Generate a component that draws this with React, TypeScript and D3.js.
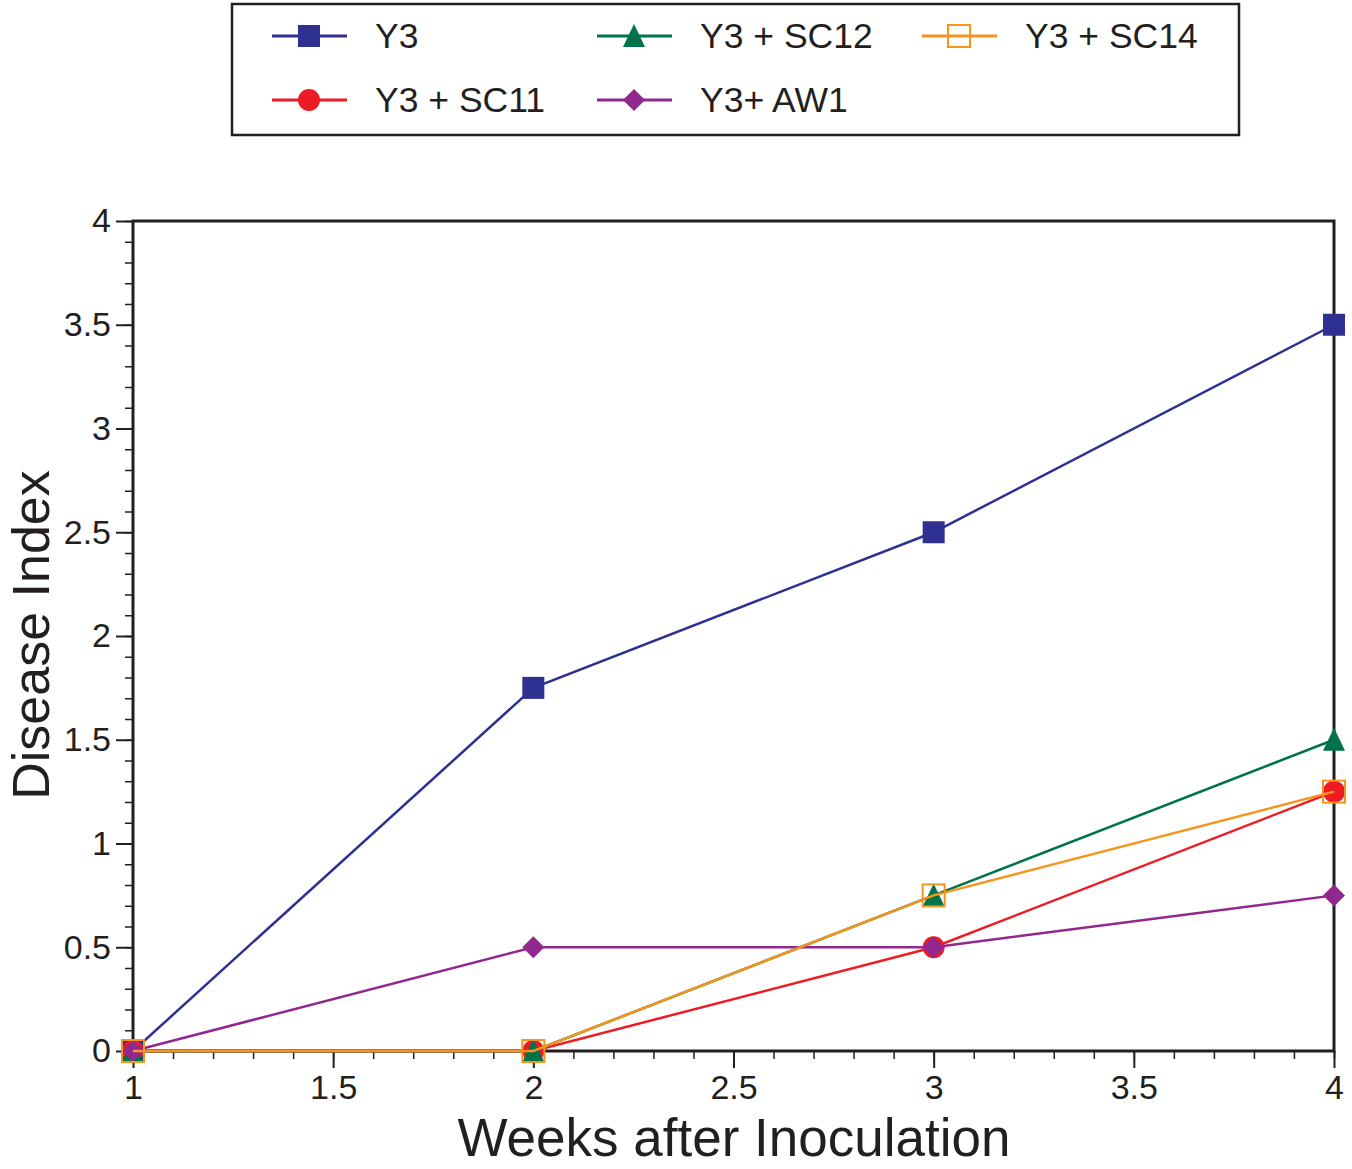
import React, { useEffect, useRef } from 'react';
import * as d3 from 'd3';

// weeks after inoculation
const weeks = [1, 2, 3, 4];

// disease index per series
const y3 = [0, 1.75, 2.5, 3.5];
const y3sc11 = [0, 0, 0.5, 1.25];
const y3sc12 = [0, 0, 0.75, 1.5];
const y3aw1 = [0, 0.5, 0.5, 0.75];
const y3sc14 = [0, 0, 0.75, 1.25];

const xTicks = [1, 1.5, 2, 2.5, 3, 3.5, 4];
const yTicks = [0, 0.5, 1, 1.5, 2, 2.5, 3, 3.5, 4];

const series = [
    { name: 'Y3', values: y3, color: '#2E3192', symbol: 'square', filled: true, legend: [0, 0] },
    { name: 'Y3 + SC11', values: y3sc11, color: '#ED1C24', symbol: 'circle', filled: true, legend: [0, 1] },
    { name: 'Y3 + SC12', values: y3sc12, color: '#00734A', symbol: 'triangle', filled: true, legend: [1, 0] },
    { name: 'Y3+ AW1', values: y3aw1, color: '#92278F', symbol: 'diamond', filled: true, legend: [1, 1] },
    { name: 'Y3 + SC14', values: y3sc14, color: '#F7941D', symbol: 'square', filled: false, legend: [2, 0] },
];

const FONT = '"Liberation Sans", Arial, Helvetica, sans-serif';
const INK = '#231F20';

const drawMarker = (g, symbol, color, filled, cx, cy) => {
    const s = 11;
    if (symbol === 'square') {
        g.append('rect')
            .attr('x', cx - s).attr('y', cy - s)
            .attr('width', 2 * s).attr('height', 2 * s)
            .attr('fill', filled ? color : 'none')
            .attr('stroke', filled ? 'none' : color)
            .attr('stroke-width', 2);
    } else if (symbol === 'circle') {
        g.append('circle').attr('cx', cx).attr('cy', cy).attr('r', s).attr('fill', color);
    } else if (symbol === 'triangle') {
        g.append('path')
            .attr('d', `M${cx},${cy - s - 1}L${cx + s},${cy + s}L${cx - s},${cy + s}Z`)
            .attr('fill', color);
    } else {
        g.append('path')
            .attr('d', `M${cx},${cy - s}L${cx + s},${cy}L${cx},${cy + s}L${cx - s},${cy}Z`)
            .attr('fill', color);
    }
};

const App = () => {
    const ref = useRef(null);
    const width = 1352;
    const height = 1169;

    useEffect(() => {
        const svg = d3.select(ref.current);
        svg.selectAll('*').remove();

        const x = d3.scaleLinear().domain([1, 4]).range([133, 1334]);
        const y = d3.scaleLinear().domain([0, 4]).range([1051, 221]);

        // minor ticks
        svg.append('g')
            .attr('transform', `translate(0,${y(0)})`)
            .call(d3.axisBottom(x).tickValues(d3.range(10, 41).map(v => v / 10)).tickSize(8).tickFormat(() => ''))
            .call(g => g.select('.domain').remove())
            .call(g => g.selectAll('line').attr('stroke', INK).attr('stroke-width', 1.5));
        svg.append('g')
            .attr('transform', `translate(${x(1)},0)`)
            .call(d3.axisLeft(y).tickValues(d3.range(0, 41).map(v => v / 10)).tickSize(8).tickFormat(() => ''))
            .call(g => g.select('.domain').remove())
            .call(g => g.selectAll('line').attr('stroke', INK).attr('stroke-width', 1.5));

        // major ticks
        svg.append('g')
            .attr('transform', `translate(0,${y(0)})`)
            .call(d3.axisBottom(x).tickValues(xTicks).tickSize(17).tickPadding(7).tickFormat(d3.format('')))
            .call(g => g.select('.domain').remove())
            .call(g => g.selectAll('line').attr('stroke', INK).attr('stroke-width', 2))
            .call(g => g.selectAll('text').attr('font-family', FONT).attr('font-size', 34).attr('fill', INK));
        svg.append('g')
            .attr('transform', `translate(${x(1)},0)`)
            .call(d3.axisLeft(y).tickValues(yTicks).tickSize(17).tickPadding(5).tickFormat(d3.format('')))
            .call(g => g.select('.domain').remove())
            .call(g => g.selectAll('line').attr('stroke', INK).attr('stroke-width', 2))
            .call(g => g.selectAll('text').attr('font-family', FONT).attr('font-size', 34).attr('fill', INK));

        // plot frame
        svg.append('rect')
            .attr('x', x(1)).attr('y', y(4))
            .attr('width', x(4) - x(1)).attr('height', y(0) - y(4))
            .attr('fill', 'none').attr('stroke', INK).attr('stroke-width', 3);

        // lines and markers
        series.forEach(s => {
            const pts = weeks.map((w, i) => [x(w), y(s.values[i])]);
            svg.append('path')
                .datum(pts)
                .attr('fill', 'none')
                .attr('stroke', s.color)
                .attr('stroke-width', 2.5)
                .attr('d', d3.line());
            const g = svg.append('g');
            pts.forEach(p => drawMarker(g, s.symbol, s.color, s.filled, p[0], p[1]));
        });

        // axis titles
        svg.append('text')
            .attr('x', 734).attr('y', 1156)
            .attr('text-anchor', 'middle')
            .attr('font-family', FONT).attr('font-size', 53).attr('fill', INK)
            .text('Weeks after Inoculation');
        svg.append('text')
            .attr('transform', 'translate(49,635) rotate(-90)')
            .attr('text-anchor', 'middle')
            .attr('font-family', FONT).attr('font-size', 52).attr('fill', INK)
            .text('Disease Index');

        // legend
        const legend = svg.append('g');
        legend.append('rect')
            .attr('x', 232).attr('y', 4).attr('width', 1007).attr('height', 131)
            .attr('fill', 'white').attr('stroke', INK).attr('stroke-width', 2.5);
        series.forEach(s => {
            const lx = 272 + s.legend[0] * 325;
            const ly = 36 + s.legend[1] * 64;
            legend.append('line')
                .attr('x1', lx).attr('x2', lx + 75).attr('y1', ly).attr('y2', ly)
                .attr('stroke', s.color).attr('stroke-width', 3);
            drawMarker(legend, s.symbol, s.color, s.filled, lx + 37, ly);
            legend.append('text')
                .attr('x', lx + 103).attr('y', ly + 12)
                .attr('font-family', FONT).attr('font-size', 35.5).attr('fill', INK)
                .text(s.name);
        });
    }, []);

    return (
        <svg ref={ref} width={width} height={height}
            style={{ position: 'absolute', left: 0, top: 0, background: 'white' }} />
    );
};

export default App;
